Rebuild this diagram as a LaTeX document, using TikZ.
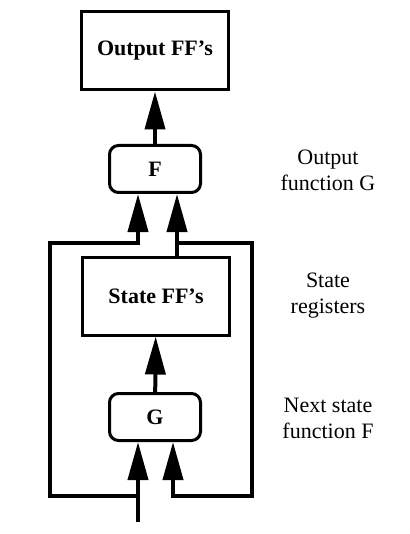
\documentclass[tikz,border=0pt]{standalone}
\usepackage{fontspec}
\setmainfont{Liberation Serif}
\usetikzlibrary{arrows.meta}

\begin{document}
\begin{tikzpicture}[x=1pt, y=-1pt,
    every node/.style={font=\fontsize{22}{26}\selectfont},
    register/.style ={rectangle, draw, line width=3pt, minimum width=147pt, minimum height=78pt, font=\fontsize{22}{26}\selectfont\bfseries},
    logic/.style ={rectangle, rounded corners=9pt, draw, line width=3pt, minimum width=91pt, minimum height=47pt, font=\fontsize{22}{26}\selectfont\bfseries},
    wire/.style ={line width=4pt, line join=miter},
    flow/.style ={wire, -{Triangle[length=38pt, width=20pt]}},
    comment/.style ={align=center}]
   \useasboundingbox (0,0) rectangle (409,534);
   \node[register] (out) at (155,51)  {Output FF's};
   \node[logic] (F) at (155,169)  {F};
   \node[register] (state) at (156,296)  {State FF's};
   \node[logic] (G) at (155,417)  {G};
   \coordinate (in) at (138,522);
   \coordinate (jl) at (138,496);
   \coordinate (lt) at (50,243);
   \coordinate (sr) at (177,243);
   \coordinate (rb) at (252,496);
   \draw[flow] (F) to  (out);
   \draw[flow] (G) to  (state);
   \draw[flow] (in) to  (in |- G.south);
   \draw[flow] (jl) -| (lt) -| ([xshift=-17pt]F.south);
   \draw[wire] (sr |- state.north) to  (sr);
   \draw[flow] (sr) to  (sr |- F.south);
   \draw[flow] (sr) -| (rb) -| ([xshift=18pt]G.south);
   \node[comment] (lblG) at (328,170) {Output\\function G};
   \node[comment] (lblS) at (328,296) {State\\registers};
   \node[comment] (lblF) at (328,418) {Next state\\function F};
 \end{tikzpicture}
\end{document}
